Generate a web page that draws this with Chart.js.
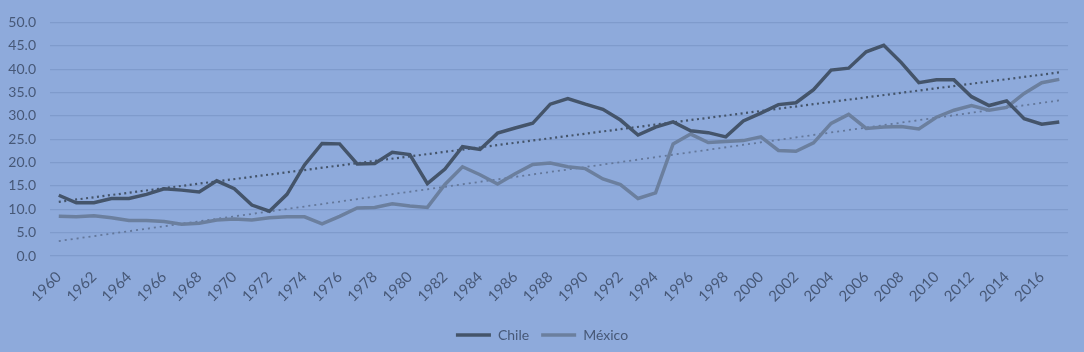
<!DOCTYPE html>
<html>
<head>
<meta charset="utf-8">
<script src="https://cdn.jsdelivr.net/npm/chart.js@4"></script>
<style>
  html, body { margin: 0; padding: 0; background: #8eaadb; }
  #wrap { width: 1084px; height: 352px; }
</style>
</head>
<body>
<div id="wrap"><canvas id="chart"></canvas></div>
<script>
// Años del eje X
const years = []
for (let y = 1960; y <= 2017; y++) years.push(String(y))

// Valores
const chile = [
  13.0, 11.4, 11.4, 12.3, 12.3, 13.2, 14.4, 14.1, 13.7, 16.1,
  14.4, 10.9, 9.6, 13.2, 19.5, 24.1, 24.0, 19.7, 19.8, 22.2,
  21.7, 15.5, 18.6, 23.4, 22.8, 26.3, 27.4, 28.4, 32.5, 33.7,
  32.5, 31.4, 29.1, 25.9, 27.6, 28.7, 26.8, 26.4, 25.5, 28.9,
  30.6, 32.4, 32.8, 35.6, 39.8, 40.2, 43.7, 45.1, 41.4, 37.1,
  37.7, 37.7, 34.1, 32.2, 33.2, 29.4, 28.2, 28.7
]
const mexico = [
  8.5, 8.4, 8.6, 8.2, 7.6, 7.6, 7.4, 6.8, 7.0, 7.7,
  7.9, 7.7, 8.2, 8.4, 8.4, 6.9, 8.5, 10.3, 10.4, 11.2,
  10.7, 10.4, 15.3, 19.1, 17.4, 15.4, 17.6, 19.6, 19.9, 19.1,
  18.7, 16.5, 15.3, 12.3, 13.5, 24.0, 26.1, 24.3, 24.5, 24.7,
  25.5, 22.6, 22.4, 24.2, 28.4, 30.3, 27.3, 27.6, 27.7, 27.2,
  29.7, 31.2, 32.2, 31.2, 31.8, 34.8, 37.1, 37.8
]
// Extremos de las líneas de tendencia
const chileTrend = [11.6, 39.3]
const mexicoTrend = [3.2, 33.3]

const yTicks = [0, 5, 10, 15, 20, 25, 30, 35, 40, 45, 50]

const TEXT = '#475877'
const GRID = '#7f9bcc'
const C_CHILE = '#44546a'
const C_MEX = '#6b7f9e'

Chart.defaults.font.family = 'Lato, "Open Sans", sans-serif'
Chart.defaults.font.size = 14
Chart.defaults.color = TEXT

const trendPoints = v => [
  { x: years[0], y: v[0] },
  { x: years[years.length - 1], y: v[1] }
]

new Chart(document.getElementById('chart'), {
  type: 'line',
  data: {
    labels: years,
    datasets: [
      {
        label: 'Chile',
        data: chile,
        borderColor: C_CHILE,
        backgroundColor: C_CHILE,
        borderWidth: 3.5,
        pointRadius: 0,
        tension: 0
      },
      {
        label: 'México',
        data: mexico,
        borderColor: C_MEX,
        backgroundColor: C_MEX,
        borderWidth: 3.5,
        pointRadius: 0,
        tension: 0
      },
      {
        label: 'trend-chile',
        data: trendPoints(chileTrend),
        borderColor: C_CHILE,
        borderWidth: 2.2,
        borderDash: [2, 3.5],
        pointRadius: 0
      },
      {
        label: 'trend-mexico',
        data: trendPoints(mexicoTrend),
        borderColor: '#63779a',
        borderWidth: 1.8,
        borderDash: [2, 4],
        pointRadius: 0
      }
    ]
  },
  options: {
    responsive: true,
    maintainAspectRatio: false,
    animation: false,
    layout: { padding: { top: 19, right: 0, left: 0, bottom: 0 } },
    plugins: {
      tooltip: { enabled: false },
      legend: {
        position: 'bottom',
        labels: {
          usePointStyle: true,
          pointStyle: 'line',
          pointStyleWidth: 35,
          boxHeight: 14,
          padding: 12,
          color: TEXT,
          font: { size: 14 },
          filter: item => item.datasetIndex < 2
        }
      }
    },
    scales: {
      x: {
        offset: true,
        grid: { display: false, drawTicks: false },
        border: { display: false },
        ticks: {
          autoSkip: false,
          maxRotation: 45,
          minRotation: 45,
          padding: 12,
          color: TEXT,
          font: { size: 15 },
          callback: function (v, i) { return i % 2 === 0 ? this.getLabelForValue(v) : '' }
        },
        afterFit: s => { s.height = 60 }
      },
      y: {
        min: 0,
        max: 50,
        afterBuildTicks: s => { s.ticks = yTicks.map(v => ({ value: v })) },
        grid: { color: GRID, lineWidth: 1.2, drawTicks: false },
        border: { display: false },
        ticks: {
          padding: 14,
          color: TEXT,
          font: { size: 14 },
          callback: v => v.toFixed(1)
        },
        afterFit: s => { s.width = 50 }
      }
    }
  }
})
</script>
</body>
</html>
